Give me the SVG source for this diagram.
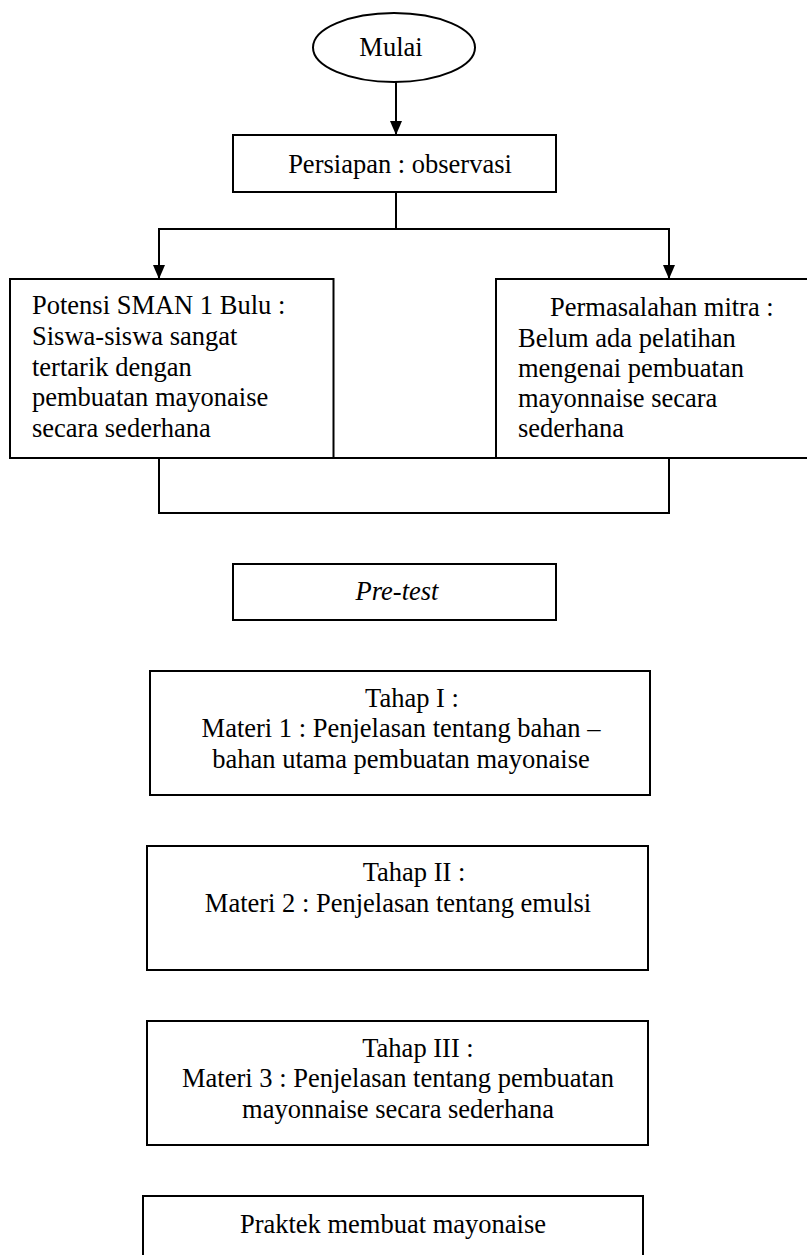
<svg xmlns="http://www.w3.org/2000/svg" width="807" height="1255" viewBox="0 0 807 1255">
<style>
.box{fill:#fff;stroke:#000;stroke-width:2}
.t{font-family:"Liberation Serif","Times New Roman",serif;font-size:26.5px;fill:#000}
.c{text-anchor:middle}
.ln{fill:none;stroke:#000;stroke-width:2}
</style>
<defs>
<marker id="ah" viewBox="0 0 14 12" refX="14" refY="6" markerWidth="14" markerHeight="12" markerUnits="userSpaceOnUse" orient="auto">
<path d="M0,0 L14,6 L0,12 Z" fill="#000"/>
</marker>
</defs>
<rect width="807" height="1255" fill="#fff"/>
<g id="connectors">
<line class="ln" x1="396" y1="82" x2="396" y2="135" marker-end="url(#ah)"/>
<polyline class="ln" points="396,192 396,229 159,229 159,279" marker-end="url(#ah)"/>
<polyline class="ln" points="396,229 669,229 669,279" marker-end="url(#ah)"/>
</g>
<g id="mulai">
<ellipse class="box" cx="394" cy="47.5" rx="81" ry="34.5"/>
<text class="t c" x="391" y="56">Mulai</text>
</g>
<g id="persiapan">
<rect class="box" x="233" y="135" width="323" height="57"/>
<text class="t c" x="400" y="173">Persiapan : observasi</text>
</g>
<g id="bottom-box">
<rect class="box" x="159" y="458" width="510" height="55"/>
</g>
<g id="potensi">
<rect class="box" x="10" y="279" width="323.5" height="179"/>
<text class="t" x="32" y="314">Potensi SMAN 1 Bulu :</text>
<text class="t" x="32" y="345">Siswa-siswa sangat</text>
<text class="t" x="32" y="376">tertarik dengan</text>
<text class="t" x="32" y="406">pembuatan mayonaise</text>
<text class="t" x="32" y="437">secara sederhana</text>
</g>
<g id="permasalahan">
<rect class="box" x="496" y="279" width="340" height="179"/>
<text class="t" x="550" y="316">Permasalahan mitra :</text>
<text class="t" x="518" y="347">Belum ada pelatihan</text>
<text class="t" x="518" y="377">mengenai pembuatan</text>
<text class="t" x="518" y="407">mayonnaise secara</text>
<text class="t" x="518" y="437">sederhana</text>
</g>
<g id="pretest">
<rect class="box" x="233" y="564" width="323" height="56"/>
<text class="t c" x="397" y="600" font-style="italic">Pre-test</text>
</g>
<g id="tahap1">
<rect class="box" x="150" y="671" width="500" height="124"/>
<text class="t c" x="412" y="707">Tahap I :</text>
<text class="t c" x="401" y="737">Materi 1 : Penjelasan tentang bahan –</text>
<text class="t c" x="401" y="768">bahan utama pembuatan mayonaise</text>
</g>
<g id="tahap2">
<rect class="box" x="147" y="846" width="501" height="124"/>
<text class="t c" x="414" y="881">Tahap II :</text>
<text class="t c" x="398" y="912">Materi 2 : Penjelasan tentang emulsi</text>
</g>
<g id="tahap3">
<rect class="box" x="147" y="1021" width="501" height="124"/>
<text class="t c" x="418" y="1057">Tahap III :</text>
<text class="t c" x="398" y="1087">Materi 3 : Penjelasan tentang pembuatan</text>
<text class="t c" x="398" y="1118">mayonnaise secara sederhana</text>
</g>
<g id="praktek">
<rect class="box" x="143" y="1196" width="500" height="80"/>
<text class="t c" x="393" y="1233">Praktek membuat mayonaise</text>
</g>
</svg>
